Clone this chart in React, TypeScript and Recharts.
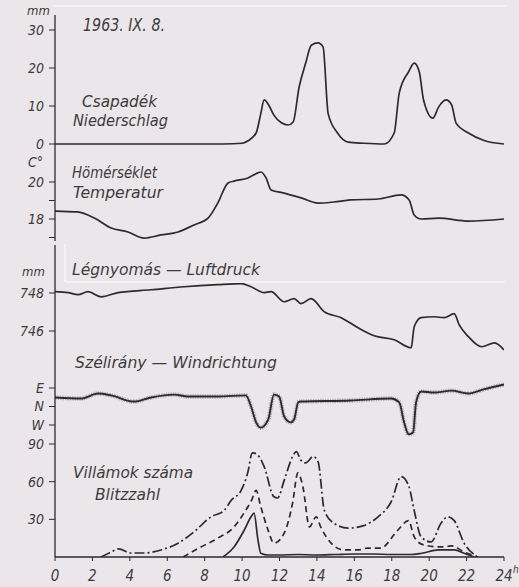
import React from 'react';
import { LineChart, Line, XAxis, YAxis } from 'recharts';

const W = 519;
const H = 587;
const TOP = 15;
const BOTTOM = 557;
const LEFT = 55;
const RIGHT = 504;

const BG = '#ebe6ea';
const INK = '#2b2b2b';
const TEXT = '#3c3c3c';
const FONT = "'DejaVu Sans Condensed', 'DejaVu Sans', sans-serif";

const hourTicks = [0, 2, 4, 6, 8, 10, 12, 14, 16, 18, 20, 22, 24];

// Csapadék / Niederschlag (mm)
const precipHours = [0, 2, 4, 6, 8, 9, 10, 10.3, 10.75, 11.0, 11.18, 11.45, 11.7, 12.1, 12.46, 12.73, 13.05, 13.4, 13.7, 14.06, 14.33, 14.6, 15.1, 15.67, 16.5, 17.6, 18.13, 18.4, 18.9, 19.2, 19.47, 19.7, 20.2, 20.5, 20.9, 21.2, 21.44, 22.1, 22.9, 24];
const precipMm = [0, 0, 0, 0, 0, 0, 0.2, 0.8, 2.9, 8, 11.6, 10, 7.6, 5.6, 5, 5.8, 15, 21.3, 26, 26.6, 25.5, 8, 2.9, 0.5, 0.2, 0, 2.9, 13.4, 19, 21.3, 19, 11.6, 6.8, 9.7, 11.6, 10.3, 5.5, 2.9, 1, 0];

// Hömérséklet / Temperatur (°C)
const tempHours = [0, 1.2, 2.1, 3.0, 3.9, 4.76, 5.67, 6.58, 7.43, 8.18, 8.7, 9.25, 9.57, 10.32, 10.75, 11.0, 11.28, 11.55, 12.25, 13.15, 14.06, 14.9, 15.8, 17.27, 18.5, 18.93, 19.2, 19.57, 20.5, 22.1, 24];
const tempC = [18.43, 18.38, 18.05, 17.51, 17.3, 16.97, 17.14, 17.3, 17.68, 18.05, 18.86, 19.95, 20.05, 20.22, 20.45, 20.54, 20.22, 19.57, 19.4, 19.14, 18.86, 18.92, 19.03, 19.08, 19.3, 19.03, 18.22, 18.0, 18.05, 17.89, 18.0];

// Légnyomás / Luftdruck (mm)
const pressHours = [0, 0.7, 1.23, 1.76, 2.46, 3.37, 5.13, 6.9, 8.7, 9.95, 10.48, 11.18, 11.55, 12.25, 12.78, 13.15, 13.69, 14.38, 15.3, 16.2, 17.06, 18.13, 19.04, 19.2, 19.57, 20.27, 20.8, 21.34, 21.6, 22.1, 22.8, 23.5, 24];
const pressMm = [748.07, 748.02, 747.91, 748.07, 747.8, 748.02, 748.17, 748.33, 748.44, 748.49, 748.33, 748.02, 748.07, 747.54, 747.7, 747.44, 747.7, 747.02, 746.7, 746.17, 745.75, 745.54, 745.12, 746.22, 746.7, 746.75, 746.7, 746.91, 746.33, 745.7, 745.17, 745.38, 745.0];

// Szélirány / Windrichtung (degrees from N, E = 90, W = -90)
const windHours = [0, 1.4, 2.3, 3.0, 4.22, 5.13, 6.36, 7.1, 8.7, 10.2, 10.48, 10.75, 11.0, 11.4, 11.7, 11.98, 12.25, 12.6, 12.78, 13.0, 13.15, 15.8, 17.97, 18.4, 18.66, 18.9, 19.14, 19.3, 19.57, 20.27, 21.2, 22.1, 22.9, 24];
const windDeg = [44, 39, 63, 54, 24, 44, 58, 49, 49, 54, 0, -77, -103, -63, 58, 49, -49, -77, -63, 20, 24, 29, 39, 20, -77, -135, -126, 20, 73, 68, 77, 63, 83, 107];

// Villámok száma / Blitzzahl
const flashAHours = [2.46, 2.9, 3.4, 4.06, 4.76, 5.67, 6.58, 7.43, 8.34, 9.04, 9.41, 9.95, 10.3, 10.55, 10.85, 11.18, 11.7, 11.9, 12.25, 12.7, 12.9, 13.15, 13.4, 13.8, 14.06, 14.4, 14.9, 15.67, 16.5, 17.27, 17.97, 18.5, 18.9, 19.2, 19.57, 20.1, 20.64, 21.0, 21.34, 21.87, 22.6];
const flashA = [0, 3.2, 6.4, 3.2, 3.2, 5.6, 11, 20, 32, 37, 45, 53, 67, 83, 81, 72, 48, 47, 61, 80, 84, 77, 75, 80, 76, 37, 27, 23, 25, 32, 44, 64, 57, 37, 16, 12, 27, 32, 29, 11, 0];
const flashBHours = [6.85, 7.8, 8.7, 9.57, 10.1, 10.5, 10.75, 11.0, 11.4, 11.7, 12.25, 12.7, 12.98, 13.25, 13.6, 13.96, 14.2, 14.76, 15.45, 16.2, 16.7, 17.4, 18.3, 18.9, 19.2, 19.7, 20.64, 21.2, 21.87, 22.6];
const flashB = [0, 8, 15, 24, 35, 45, 53, 40, 21, 11, 19, 43, 67, 56, 24, 32, 24, 11, 5.6, 5.6, 7, 7, 21, 29, 16, 9.6, 8, 8.8, 4, 0];
const flashCHours = [8.98, 9.57, 10.1, 10.48, 10.64, 10.85, 11.0, 11.4, 12, 13, 14, 15, 16, 17, 18, 19, 19.6, 20.5, 21.34, 21.87, 22.4];
const flashC = [0, 8, 21, 32, 35, 13.5, 3, 1.6, 1.6, 2, 1.6, 2, 2.4, 2.4, 2, 2, 3, 5.6, 5.6, 3, 0];

const zip = (xs: number[], ys: number[]) => xs.map((hour, i) => ({ hour, v: ys[i] }));

// domain so that value v1 sits at pixel y1 and v2 at y2
function domainFrom(v1: number, y1: number, v2: number, y2: number): [number, number] {
  const k = (v2 - v1) / (y2 - y1);
  return [v1 + (BOTTOM - y1) * k, v1 + (TOP - y1) * k];
}

const tickStyle = { fontSize: 14, fontStyle: 'italic', fill: TEXT, fontFamily: FONT };

const HourTick = (props: any) => {
  const { x, payload } = props;
  const v = payload.value;
  return (
    <g>
      <text x={x} y={581} textAnchor="middle" style={{ ...tickStyle, fontSize: 15 }}>
        {v}
      </text>
      {v === 24 && (
        <text x={x + 9} y={573} style={{ ...tickStyle, fontSize: 10 }}>
          h
        </text>
      )}
    </g>
  );
};

interface LayerProps {
  domain: [number, number];
  ticks: number[];
  fmt?: (v: number) => string;
  axisLine?: boolean;
  showX?: boolean;
  children: React.ReactNode;
}

function Layer({ domain, ticks, fmt, axisLine = false, showX = false, children }: LayerProps) {
  return (
    <div style={{ position: 'absolute', left: 0, top: 0 }}>
      <LineChart
        width={W}
        height={H}
        margin={{ top: TOP, right: W - RIGHT, bottom: showX ? 0 : H - BOTTOM, left: 0 }}
      >
        <XAxis
          type="number"
          dataKey="hour"
          domain={[0, 24]}
          ticks={hourTicks}
          interval={0}
          allowDataOverflow
          hide={!showX}
          height={H - BOTTOM}
          axisLine={{ stroke: INK, strokeWidth: 1.3 }}
          tickLine={{ stroke: INK }}
          tickSize={4}
          tick={<HourTick />}
        />
        <YAxis
          type="number"
          domain={domain}
          ticks={ticks}
          interval={0}
          allowDataOverflow
          width={LEFT}
          axisLine={axisLine ? { stroke: INK, strokeWidth: 1.3 } : false}
          tickLine={{ stroke: INK }}
          tickSize={6}
          tickMargin={5}
          tickFormatter={fmt}
          tick={tickStyle}
        />
        {children}
      </LineChart>
    </div>
  );
}

const windLabels: Record<string, string> = { '90': 'E', '0': 'N', '-90': 'W' };

const labels = [
  { t: 'mm', x: 27, y: 15, s: 13 },
  { t: '1963. IX. 8.', x: 83, y: 31, s: 17, w: 82 },
  { t: 'Csapadék', x: 82, y: 107, s: 16, w: 75 },
  { t: 'Niederschlag', x: 73, y: 126, s: 16, w: 95 },
  { t: 'C°', x: 28, y: 167, s: 14 },
  { t: 'Hömérséklet', x: 72, y: 178, s: 16, w: 85 },
  { t: 'Temperatur', x: 73, y: 198, s: 16, w: 90 },
  { t: 'mm', x: 22, y: 276, s: 13 },
  { t: 'Légnyomás — Luftdruck', x: 72, y: 275, s: 16, w: 188 },
  { t: 'Szélirány — Windrichtung', x: 75, y: 368, s: 16, w: 202 },
  { t: 'Villámok száma', x: 73, y: 478, s: 16, w: 120 },
  { t: 'Blitzzahl', x: 95, y: 500, s: 16, w: 65 },
];

export default function App() {
  const line = { type: 'monotone' as const, dataKey: 'v', stroke: INK, strokeWidth: 1.7, dot: false, isAnimationActive: false };
  return (
    <div style={{ position: 'absolute', left: 0, top: 0, width: W, height: H, background: BG, overflow: 'hidden', fontFamily: FONT }}>
      <Layer domain={domainFrom(0, 144, 30, 30)} ticks={[0, 10, 20, 30]} axisLine>
        <Line {...line} data={zip(precipHours, precipMm)} />
      </Layer>
      <Layer domain={domainFrom(20, 182, 18, 219)} ticks={[17, 18, 19, 20]} fmt={(v) => (v === 18 || v === 20 ? String(v) : '')}>
        <Line {...line} data={zip(tempHours, tempC)} />
      </Layer>
      <Layer domain={domainFrom(748, 293, 746, 331)} ticks={[746, 748]}>
        <Line {...line} data={zip(pressHours, pressMm)} />
      </Layer>
      <Layer domain={domainFrom(90, 388, -90, 425)} ticks={[-90, 0, 90]} fmt={(v) => windLabels[String(Math.round(v))] ?? ''}>
        <Line {...line} data={zip(windHours, windDeg)} strokeWidth={4.5} strokeDasharray="0.6 1.1" strokeOpacity={0.45} />
        <Line {...line} data={zip(windHours, windDeg)} strokeWidth={1.9} />
      </Layer>
      <Layer domain={domainFrom(0, 557, 90, 444)} ticks={[30, 60, 90]} showX>
        <Line {...line} data={zip(flashAHours, flashA)} strokeDasharray="10 3 2 3" />
        <Line {...line} data={zip(flashBHours, flashB)} strokeDasharray="6 4" />
        <Line {...line} data={zip(flashCHours, flashC)} />
      </Layer>
      <svg width={W} height={H} style={{ position: 'absolute', left: 0, top: 0 }}>
        <line x1={53} y1={6} x2={507} y2={6} stroke="#f7f4f6" strokeWidth={1.5} />
        <line x1={65} y1={282} x2={505} y2={282} stroke="#f7f4f6" strokeWidth={1.5} />
        <line x1={65} y1={244} x2={65} y2={282} stroke="#f7f4f6" strokeWidth={1.5} />
        <rect x={52} y={241} width={6} height={4} fill={BG} />
        {labels.map((l) => (
          <text
            key={l.t + l.y}
            x={l.x}
            y={l.y}
            fontSize={l.s}
            fontStyle="italic"
            fill={TEXT}
            fontFamily={FONT}
            textLength={l.w}
            lengthAdjust={l.w ? 'spacingAndGlyphs' : undefined}
          >
            {l.t}
          </text>
        ))}
      </svg>
    </div>
  );
}
